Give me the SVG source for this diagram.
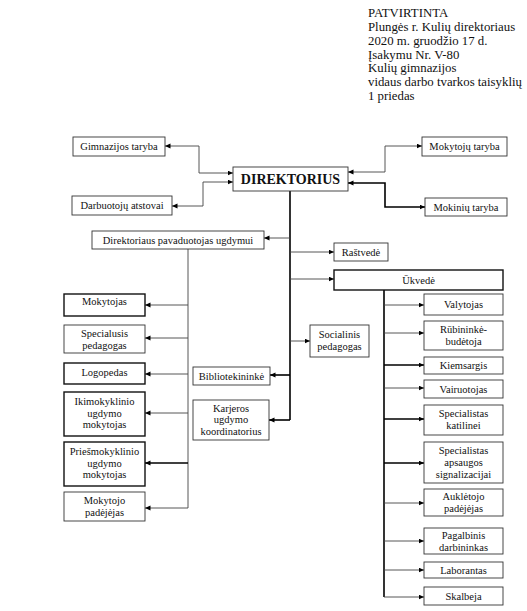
<svg xmlns="http://www.w3.org/2000/svg" width="527" height="611" viewBox="0 0 527 611">
<style>
  text { font-family: "Liberation Serif", "Times New Roman", serif; fill: #111; }
  .hdr { font-family: "Liberation Serif", serif; font-size: 12.8px; }
  .lbl { font-family: "Liberation Serif", serif; font-size: 10.5px; text-anchor: middle; }
  .big { font-family: "Liberation Serif", serif; font-size: 14px; font-weight: bold; text-anchor: middle; }
  .box { fill: #fff; stroke: #333; stroke-width: 0.9; }
  .boxb { fill: #fff; stroke: #111; stroke-width: 1.4; }
  .ln { fill: none; stroke: #444; stroke-width: 0.9; }
  .lnb { fill: none; stroke: #000; stroke-width: 1.6; }
  .a2 { marker-start: url(#ah); marker-end: url(#ah); }
  .a1 { marker-end: url(#ah); }
</style>
<defs>
  <marker id="ah" markerUnits="userSpaceOnUse" markerWidth="6" markerHeight="6" refX="5.5" refY="2.5" orient="auto-start-reverse">
    <path d="M0,0 L5.5,2.5 L0,5 z" fill="#000"/>
  </marker>
</defs>
<rect width="527" height="611" fill="#fff"/>

<g id="header">
  <text class="hdr" x="368" y="17">PATVIRTINTA</text>
  <text class="hdr" x="368" y="31">Plungės r. Kulių direktoriaus</text>
  <text class="hdr" x="368" y="45">2020 m. gruodžio 17 d.</text>
  <text class="hdr" x="368" y="58.5">Įsakymu Nr. V-80</text>
  <text class="hdr" x="368" y="72">Kulių gimnazijos</text>
  <text class="hdr" x="368" y="86">vidaus darbo tvarkos taisyklių</text>
  <text class="hdr" x="368" y="100">1 priedas</text>
</g>

<g id="connectors">
  <path class="ln a2" d="M233,173 H199 V146 H165"/>
  <path class="ln a2" d="M233,182 H203 V206 H172"/>
  <path class="ln a2" d="M348,172 H385 V146 H422"/>
  <path class="lnb a2" d="M348,183 H385 V207 H425"/>
  <path class="lnb" d="M290,191 V420"/>
  <path class="ln a1" d="M290,238 H264"/>
  <path class="ln a1" d="M290,252 H334"/>
  <path class="ln a1" d="M290,279 H334"/>
  <path class="ln a1" d="M290,341 H310"/>
  <path class="lnb a1" d="M290,375 H270"/>
  <path class="lnb a1" d="M290,420 H269"/>
  <path class="ln" d="M188,249 V508"/>
  <path class="ln a1" d="M188,305 H145"/>
  <path class="ln a1" d="M188,338 H145"/>
  <path class="ln a1" d="M188,374 H145"/>
  <path class="ln a1" d="M188,413 H145"/>
  <path class="lnb a1" d="M188,463 H145"/>
  <path class="ln a1" d="M188,508 H145"/>
  <path class="lnb" d="M384,290 V597"/>
  <path class="ln a1" d="M384,305 H424"/>
  <path class="ln a1" d="M384,333 H424"/>
  <path class="lnb a1" d="M384,365 H424"/>
  <path class="ln a1" d="M384,388 H424"/>
  <path class="lnb a1" d="M384,419 H424"/>
  <path class="lnb a1" d="M384,463 H424"/>
  <path class="ln a1" d="M384,503 H424"/>
  <path class="ln a1" d="M384,541 H424"/>
  <path class="ln a1" d="M384,570 H424"/>
  <path class="ln a1" d="M384,597 H424"/>
</g>

<g id="gimnazijos-taryba"><rect class="box" x="73" y="137" width="92" height="19"/><text class="lbl" x="119" y="150">Gimnazijos taryba</text></g>
<g id="darbuotoju-atstovai"><rect class="box" x="72" y="196" width="100" height="19"/><text class="lbl" x="122" y="209">Darbuotojų atstovai</text></g>
<g id="direktorius"><rect class="box" x="233" y="167" width="115" height="24"/><text class="big" x="290.5" y="184">DIREKTORIUS</text></g>
<g id="mokytoju-taryba"><rect class="box" x="422" y="137" width="85" height="19"/><text class="lbl" x="464.5" y="150">Mokytojų taryba</text></g>
<g id="mokiniu-taryba"><rect class="box" x="425" y="198" width="82" height="18"/><text class="lbl" x="466" y="210.5">Mokinių taryba</text></g>

<g id="pavaduotojas"><rect class="box" x="92" y="231" width="172" height="18"/><text class="lbl" x="178" y="243.5">Direktoriaus pavaduotojas ugdymui</text></g>
<g id="rastvede"><rect class="box" x="334" y="243" width="54" height="18"/><text class="lbl" x="361" y="255.5">Raštvedė</text></g>
<g id="ukvede"><rect class="boxb" x="334" y="270" width="169" height="20"/><text class="lbl" x="418.5" y="283.5">Ūkvedė</text></g>
<g id="socialinis"><rect class="box" x="310" y="325" width="59" height="32"/><text class="lbl" x="339.5" y="338">Socialinis</text><text class="lbl" x="339.5" y="350">pedagogas</text></g>
<g id="bibliotekininke"><rect class="box" x="193" y="367" width="77" height="18"/><text class="lbl" x="231.5" y="379.5">Bibliotekininkė</text></g>
<g id="karjeros"><rect class="box" x="193" y="400" width="76" height="40"/><text class="lbl" x="231" y="411.5">Karjeros</text><text class="lbl" x="231" y="423">ugdymo</text><text class="lbl" x="231" y="434.5">koordinatorius</text></g>

<g id="mokytojas"><rect class="boxb" x="64" y="294" width="81" height="22"/><text class="lbl" x="104.5" y="305">Mokytojas</text></g>
<g id="specialusis"><rect class="box" x="64" y="325" width="81" height="28"/><text class="lbl" x="104.5" y="337">Specialusis</text><text class="lbl" x="104.5" y="349">pedagogas</text></g>
<g id="logopedas"><rect class="boxb" x="64" y="363" width="81" height="21"/><text class="lbl" x="104.5" y="376">Logopedas</text></g>
<g id="ikimokyklinio"><rect class="boxb" x="64" y="392" width="81" height="44"/><text class="lbl" x="104.5" y="405">Ikimokyklinio</text><text class="lbl" x="104.5" y="416.5">ugdymo</text><text class="lbl" x="104.5" y="428">mokytojas</text></g>
<g id="priesmokyklinio"><rect class="boxb" x="64" y="442" width="81" height="44"/><text class="lbl" x="104.5" y="455">Priešmokyklinio</text><text class="lbl" x="104.5" y="466.5">ugdymo</text><text class="lbl" x="104.5" y="478">mokytojas</text></g>
<g id="mokytojo-padejejas"><rect class="box" x="64" y="492" width="81" height="29"/><text class="lbl" x="104.5" y="504">Mokytojo</text><text class="lbl" x="104.5" y="516">padėjėjas</text></g>

<g id="valytojas"><rect class="box" x="424" y="294" width="79" height="21"/><text class="lbl" x="463.5" y="308">Valytojas</text></g>
<g id="rubininke"><rect class="box" x="424" y="321" width="79" height="29"/><text class="lbl" x="463.5" y="333">Rūbininkė-</text><text class="lbl" x="463.5" y="345">budėtoja</text></g>
<g id="kiemsargis"><rect class="box" x="424" y="357" width="79" height="17"/><text class="lbl" x="463.5" y="369">Kiemsargis</text></g>
<g id="vairuotojas"><rect class="box" x="424" y="380" width="79" height="18"/><text class="lbl" x="463.5" y="392.5">Vairuotojas</text></g>
<g id="katilinei"><rect class="box" x="424" y="405" width="79" height="30"/><text class="lbl" x="463.5" y="417">Specialistas</text><text class="lbl" x="463.5" y="429">katilinei</text></g>
<g id="signalizacijai"><rect class="box" x="424" y="442" width="79" height="41"/><text class="lbl" x="463.5" y="454">Specialistas</text><text class="lbl" x="463.5" y="466">apsaugos</text><text class="lbl" x="463.5" y="478">signalizacijai</text></g>
<g id="aukletojo"><rect class="box" x="424" y="489" width="79" height="27"/><text class="lbl" x="463.5" y="500">Auklėtojo</text><text class="lbl" x="463.5" y="512">padėjėjas</text></g>
<g id="pagalbinis"><rect class="box" x="424" y="528" width="79" height="26"/><text class="lbl" x="463.5" y="539">Pagalbinis</text><text class="lbl" x="463.5" y="551">darbininkas</text></g>
<g id="laborantas"><rect class="box" x="424" y="562" width="79" height="16"/><text class="lbl" x="463.5" y="573.5">Laborantas</text></g>
<g id="skalbeja"><rect class="box" x="424" y="587" width="79" height="18"/><text class="lbl" x="463.5" y="599.5">Skalbeja</text></g>
</svg>
